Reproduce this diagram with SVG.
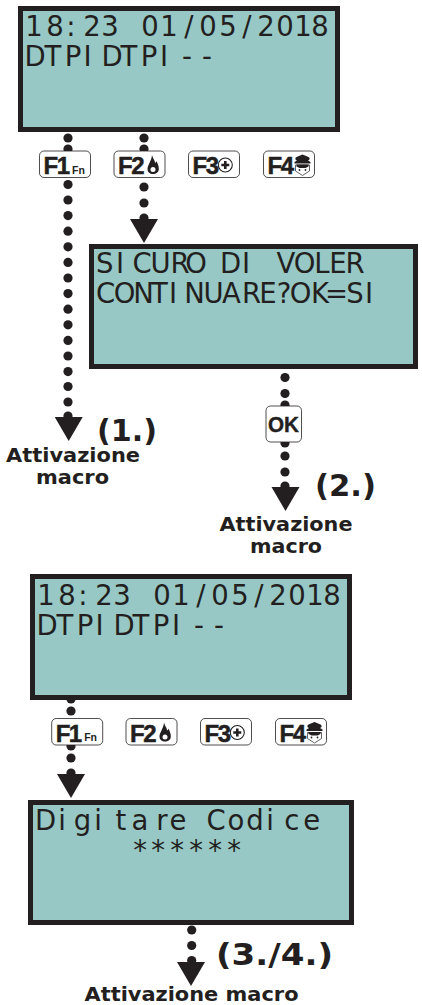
<svg xmlns="http://www.w3.org/2000/svg" width="422" height="1005" viewBox="0 0 422 1005">
<style>
.lcd{fill:#97c8c5;stroke:#231f20;stroke-width:5}
.t{font-family:"DejaVu Sans",Verdana,sans-serif;font-size:27.500px;fill:#231f20;text-anchor:middle}
.key{fill:#fff;stroke:#231f20;stroke-width:.8}
.k{font-family:"Liberation Sans",Arial,sans-serif;font-weight:700;font-size:24px;letter-spacing:-1.500px;fill:#231f20;stroke:#231f20;stroke-width:.5}
.fn{font-family:"Liberation Sans",Arial,sans-serif;font-weight:700;font-size:10.500px;fill:#231f20}
.l{font-family:"DejaVu Sans",Verdana,sans-serif;font-weight:700;font-size:20px;fill:#231f20}
.n{font-family:"DejaVu Sans",Verdana,sans-serif;font-weight:700;font-size:31px;fill:#231f20}
.ok{font-family:"Liberation Sans",Arial,sans-serif;font-weight:700;font-size:22px;fill:#231f20;stroke:#231f20;stroke-width:.4}
.d{fill:#231f20}
</style>
<defs>
<circle id="dot" class="d" r="4.600"/>
<path id="arrow" class="d" d="M-14 0H14L0 24Z"/>
<rect id="keybox" class="key" x="0" y="0" width="51" height="26.500" rx="4.500"/>
<g id="k1"><use href="#keybox"/><text class="k" x="4" y="23">F1</text><text class="fn" x="32.500" y="22.500">Fn</text></g>
<g id="k2"><use href="#keybox"/><text class="k" x="4" y="23">F2</text><path class="d" d="M38 4C39 8 41 9 41 12C42 11.500 42.500 10.500 42.500 10C44 13 44.800 15.500 44.800 18C44.800 21.500 42 23 39 23C36 23 33.500 21.500 33.500 18C33.500 14 37.500 10 38 4Z"/><circle cx="39" cy="18.500" r="2.500" fill="#fff"/></g>
<g id="k3"><use href="#keybox"/><text class="k" x="4" y="23">F3</text><circle cx="36.800" cy="14" r="7" fill="#fff" stroke="#231f20" stroke-width="1.100"/><path d="M36.800 10V18M32.800 14H40.800" stroke="#231f20" stroke-width="2.600"/></g>
<g id="k4"><use href="#keybox"/><text class="k" x="4" y="23">F4</text><path d="M32 14H46V20L39 24.500L32 20Z" fill="#fff" stroke="#231f20" stroke-width=".7"/><path class="d" d="M39 3.500L45 6C47 7.500 46 9 44.500 9.500L47 11V12.500H31V11L33.500 9.500C32 9 31 7.500 33 6Z"/><path class="d" d="M33 13.500H45V15.500L42 17H36L33 15.500Z"/><circle class="d" cx="36" cy="19" r=".9"/><circle class="d" cx="42" cy="19" r=".9"/></g>
</defs>

<g id="connectors">
<use href="#dot" x="68" y="138"/><use href="#dot" x="68" y="149"/>
<use href="#dot" x="68" y="184.500"/><use href="#dot" x="68" y="200"/><use href="#dot" x="68" y="215.600"/><use href="#dot" x="68" y="231.200"/><use href="#dot" x="68" y="246.800"/><use href="#dot" x="68" y="262.400"/><use href="#dot" x="68" y="278"/><use href="#dot" x="68" y="293.600"/><use href="#dot" x="68" y="309.200"/><use href="#dot" x="68" y="324.800"/><use href="#dot" x="68" y="340.400"/><use href="#dot" x="68" y="356"/><use href="#dot" x="68" y="371.600"/><use href="#dot" x="68" y="386.500"/><use href="#dot" x="68" y="402"/><use href="#dot" x="68" y="416"/>
<use href="#arrow" x="68.700" y="417"/>
<use href="#dot" x="144" y="138"/><use href="#dot" x="144" y="149"/><use href="#dot" x="144" y="187"/><use href="#dot" x="144" y="203"/><use href="#dot" x="144" y="218"/>
<use href="#arrow" x="144" y="219"/>
<use href="#dot" x="285" y="377.500"/><use href="#dot" x="285" y="393.500"/><use href="#dot" x="285" y="405"/><use href="#dot" x="285" y="443"/><use href="#dot" x="285" y="456"/><use href="#dot" x="285" y="472"/><use href="#dot" x="285" y="486"/>
<use href="#arrow" x="285.500" y="487"/>
<use href="#dot" x="71" y="699"/><use href="#dot" x="71" y="711"/><use href="#dot" x="71" y="746"/><use href="#dot" x="71" y="758"/><use href="#dot" x="71" y="773"/>
<use href="#arrow" x="71" y="774"/>
<use href="#dot" x="191.700" y="930"/><use href="#dot" x="191.700" y="945.500"/><use href="#dot" x="191.700" y="960.500"/>
<use href="#arrow" x="191" y="962"/>
</g>

<g id="lcd1">
<rect class="lcd" x="20.500" y="8.500" width="317" height="121"/>
<text class="t" x="34 55 71 92 110 131 150 169 189 208 228 247 266 285 303 320" y="36">18:23 01/05/2018</text>
<text class="t" x="35 53 73 87.500 112 129 149 164 175 187 207" y="65.500">DTPIDTPI --</text>
</g>
<g id="keys1"><use href="#k1" x="39.500" y="151"/><use href="#k2" x="114" y="151"/><use href="#k3" x="188.500" y="151"/><use href="#k4" x="263.500" y="151"/></g>
<g id="lcd2">
<rect class="lcd" x="91.500" y="246.500" width="324" height="120"/>
<text class="t" x="104.700 120 142 160.500 180 196 210 230.500 246 264 286 304.500 322 338 355" y="273">SICURO DI VOLER</text>
<text class="t" x="105.500 124.500 143.500 159.500 173 194.500 213.500 231.500 251.500 268 284 300.500 320 336.500 355 369" y="303">CONTINUARE?OK=SI</text>
</g>
<g id="ok"><rect class="key" x="266" y="406" width="35.500" height="36" rx="4.500"/><text class="ok" x="268" y="431.500" textLength="31" lengthAdjust="spacingAndGlyphs">OK</text></g>
<g id="label1"><text class="n" x="97" y="440.500" textLength="60" lengthAdjust="spacingAndGlyphs">(1.)</text><text class="l" x="6" y="462" textLength="134" lengthAdjust="spacingAndGlyphs">Attivazione</text><text class="l" x="36" y="484" textLength="73" lengthAdjust="spacingAndGlyphs">macro</text></g>
<g id="label2"><text class="n" x="315" y="496" textLength="61" lengthAdjust="spacingAndGlyphs">(2.)</text><text class="l" x="219.500" y="531" textLength="133" lengthAdjust="spacingAndGlyphs">Attivazione</text><text class="l" x="250" y="553" textLength="72" lengthAdjust="spacingAndGlyphs">macro</text></g>
<g id="lcd3">
<rect class="lcd" x="32.500" y="576.500" width="317" height="121"/>
<text class="t" x="46 67 83 104 122 143 162 181 201 220 240 259 278 297 315 332" y="605">18:23 01/05/2018</text>
<text class="t" x="47 65 85 99.500 124 141 161 176 187 199 219" y="634.500">DTPIDTPI --</text>
</g>
<g id="keys2"><use href="#k1" x="51.700" y="718.500"/><use href="#k2" x="126" y="718.500"/><use href="#k3" x="200.500" y="718.500"/><use href="#k4" x="275.500" y="718.500"/></g>
<g id="lcd4">
<rect class="lcd" x="30.500" y="802.500" width="321" height="120"/>
<text class="t" x="45.500 62 82.500 98 121 140 162 178 197 216 236 255 270 291.700 311.700" y="830">Digitare Codice</text>
<text class="t" x="140 158 177 196 215 234" y="860">******</text>
</g>
<g id="label3"><text class="n" x="216" y="965" textLength="117" lengthAdjust="spacingAndGlyphs">(3./4.)</text><text class="l" x="84.500" y="1001" textLength="214" lengthAdjust="spacingAndGlyphs">Attivazione macro</text></g>
</svg>
